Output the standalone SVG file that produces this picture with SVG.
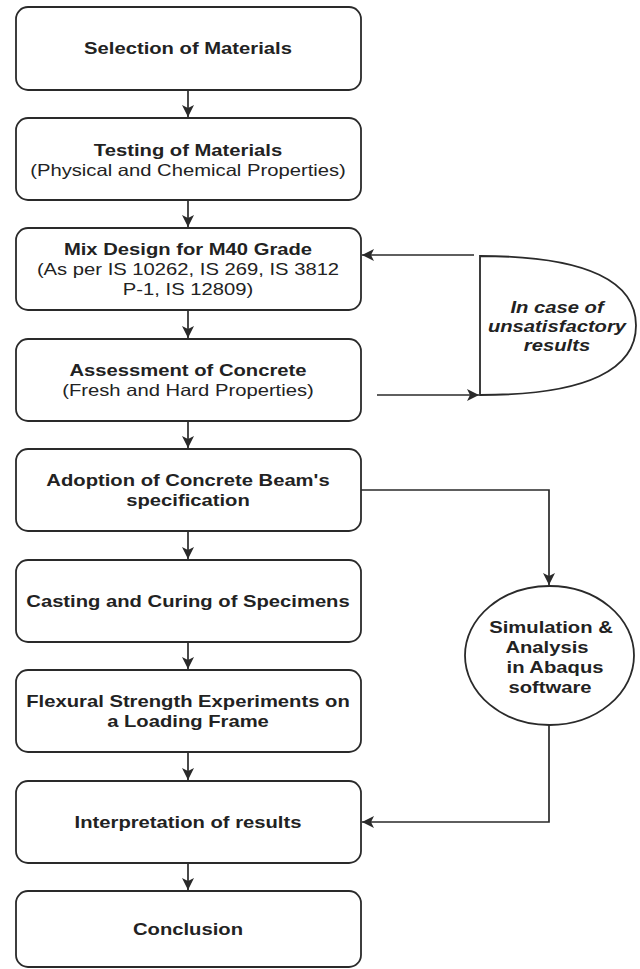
<svg xmlns="http://www.w3.org/2000/svg" width="640" height="969" viewBox="0 0 640 969">
<style>
  .box{fill:#fff;stroke:#2a2a2a;stroke-width:1.8}
  .ln{fill:none;stroke:#2a2a2a;stroke-width:1.7}
  text{font-family:"Liberation Sans",Arial,sans-serif;font-size:16.3px;fill:#222;text-anchor:middle}
  .b{font-weight:bold}
  .bi{font-weight:bold;font-style:italic}
</style>
<defs>
  <marker id="ah" markerUnits="userSpaceOnUse" markerWidth="13" markerHeight="14" viewBox="0 0 13 14" refX="12" refY="7" orient="auto">
    <path d="M0,1 L12,7 L0,13 L3,7 Z" fill="#2a2a2a"/>
  </marker>
</defs>
<rect width="640" height="969" fill="#fff"/>

<g id="connectors">
  <line class="ln" x1="188" y1="90" x2="188" y2="117" marker-end="url(#ah)"/>
  <line class="ln" x1="188" y1="200" x2="188" y2="227" marker-end="url(#ah)"/>
  <line class="ln" x1="188" y1="310" x2="188" y2="338" marker-end="url(#ah)"/>
  <line class="ln" x1="188" y1="421" x2="188" y2="448" marker-end="url(#ah)"/>
  <line class="ln" x1="188" y1="531" x2="188" y2="559" marker-end="url(#ah)"/>
  <line class="ln" x1="188" y1="642" x2="188" y2="669" marker-end="url(#ah)"/>
  <line class="ln" x1="188" y1="752" x2="188" y2="780" marker-end="url(#ah)"/>
  <line class="ln" x1="188" y1="863" x2="188" y2="890" marker-end="url(#ah)"/>
  <line class="ln" x1="474" y1="255" x2="362" y2="255" marker-end="url(#ah)"/>
  <line class="ln" x1="377" y1="395" x2="479" y2="395" marker-end="url(#ah)"/>
  <polyline class="ln" points="361,490 549,490 549,585" marker-end="url(#ah)"/>
  <polyline class="ln" points="549,725 549,822 362,822" marker-end="url(#ah)"/>
</g>

<g id="n1">
  <rect class="box" x="16" y="7" width="345" height="83" rx="12"/>
  <text class="b" transform="translate(188 54.3) scale(1.24 1)">Selection of Materials</text>
</g>
<g id="n2">
  <rect class="box" x="16" y="118" width="345" height="82" rx="12"/>
  <text class="b" transform="translate(188 155.5) scale(1.24 1)">Testing of Materials</text>
  <text transform="translate(188 175.5) scale(1.24 1)">(Physical and Chemical Properties)</text>
</g>
<g id="n3">
  <rect class="box" x="16" y="228" width="345" height="82" rx="12"/>
  <text class="b" transform="translate(188 254.9) scale(1.24 1)">Mix Design for M40 Grade</text>
  <text transform="translate(188 274.9) scale(1.24 1)">(As per IS 10262, IS 269, IS 3812</text>
  <text transform="translate(188 294.9) scale(1.24 1)">P-1, IS 12809)</text>
</g>
<g id="n4">
  <rect class="box" x="16" y="339" width="345" height="82" rx="12"/>
  <text class="b" transform="translate(188 375.9) scale(1.24 1)">Assessment of Concrete</text>
  <text transform="translate(188 395.9) scale(1.24 1)">(Fresh and Hard Properties)</text>
</g>
<g id="n5">
  <rect class="box" x="16" y="449" width="345" height="82" rx="12"/>
  <text class="b" transform="translate(188 485.9) scale(1.24 1)">Adoption of Concrete Beam's</text>
  <text class="b" transform="translate(188 505.9) scale(1.24 1)">specification</text>
</g>
<g id="n6">
  <rect class="box" x="16" y="560" width="345" height="82" rx="12"/>
  <text class="b" transform="translate(188 606.9) scale(1.24 1)">Casting and Curing of Specimens</text>
</g>
<g id="n7">
  <rect class="box" x="16" y="670" width="345" height="82" rx="12"/>
  <text class="b" transform="translate(188 706.9) scale(1.24 1)">Flexural Strength Experiments on</text>
  <text class="b" transform="translate(188 726.9) scale(1.24 1)">a Loading Frame</text>
</g>
<g id="n8">
  <rect class="box" x="16" y="781" width="345" height="82" rx="12"/>
  <text class="b" transform="translate(188 827.9) scale(1.24 1)">Interpretation of results</text>
</g>
<g id="n9">
  <rect class="box" x="16" y="891" width="345" height="76" rx="12"/>
  <text class="b" transform="translate(188 934.9) scale(1.24 1)">Conclusion</text>
</g>
<g id="feedback">
  <path class="box" d="M480,256 C590,256 636,283 636,325.5 C636,368 590,395 480,395 Z"/>
  <text class="bi" transform="translate(557 312.5) scale(1.24 1)">In case of</text>
  <text class="bi" transform="translate(557 331.5) scale(1.24 1)">unsatisfactory</text>
  <text class="bi" transform="translate(557 350.5) scale(1.24 1)">results</text>
</g>
<g id="simulation">
  <ellipse class="box" cx="549.5" cy="655.5" rx="84.5" ry="69.5"/>
  <text class="b" transform="translate(551 632.5) scale(1.24 1)">Simulation &amp;</text>
  <text class="b" transform="translate(547 652.5) scale(1.24 1)">Analysis</text>
  <text class="b" transform="translate(555 672.5) scale(1.24 1)">in Abaqus</text>
  <text class="b" transform="translate(550 692.5) scale(1.24 1)">software</text>
</g>
</svg>
